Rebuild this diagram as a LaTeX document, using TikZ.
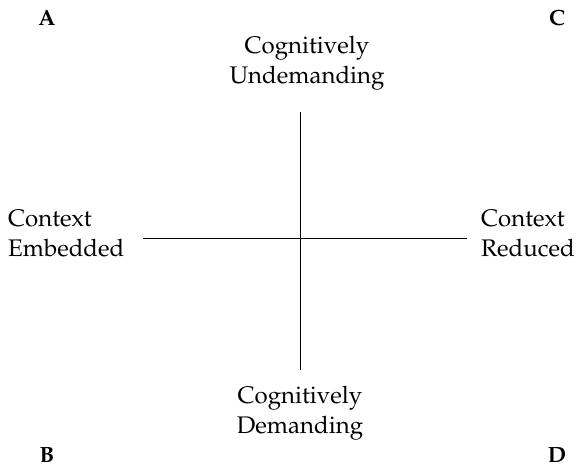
\documentclass[tikz,border=0pt]{standalone}
\usepackage[T1]{fontenc}
\usepackage{mathpazo}

\begin{document}
\begin{tikzpicture}[x=1pt, y=1pt,
  axislabel/.style={font=\fontsize{24}{30}\selectfont, inner sep=0pt},
  corner/.style={font=\fontsize{22}{25}\selectfont\bfseries, inner sep=0pt}]

\useasboundingbox (0,0) rectangle (576,467);

% quadrant letters
\node[corner] (A) at (47,449) {A};
\node[corner] (C) at (557,449) {C};
\node[corner] (B) at (47,12) {B};
\node[corner] (D) at (557,12) {D};

% axis ends
\coordinate (top) at (300,355);
\coordinate (bottom) at (300,97);
\coordinate (left) at (143,229);
\coordinate (right) at (467,229);

\draw (top) -- (bottom);
\draw (left) -- (right);

% axis labels
\node[axislabel, align=center] (undemanding) at (307,404) {Cognitively\\Undemanding};
\node[axislabel, align=center] (demanding) at (300,54) {Cognitively\\Demanding};
\node[axislabel, align=left, anchor=west] (embedded) at (8,234) {Context\\Embedded};
\node[axislabel, align=left, anchor=west] (reduced) at (481,234) {Context\\Reduced};

\end{tikzpicture}
\end{document}
